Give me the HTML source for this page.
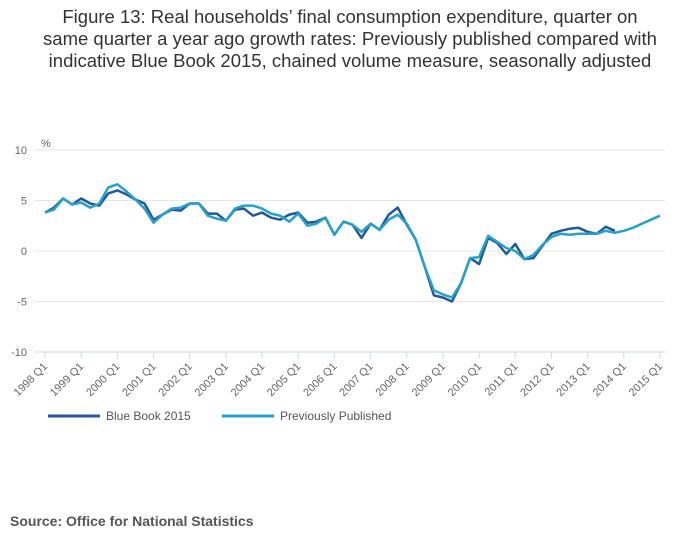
<!DOCTYPE html>
<html><head><meta charset="utf-8"><style>
body{margin:0;background:#fff;font-family:"Liberation Sans",sans-serif;}
#wrap{position:relative;width:700px;height:549px;overflow:hidden;}
#title{position:absolute;top:6px;left:0;width:700px;text-align:center;font-size:18.5px;line-height:22px;color:#333;}
#src{position:absolute;left:10px;top:513px;font-size:14px;font-weight:bold;color:#555;}
</style></head><body>
<div id="wrap">
<div id="title">Figure 13: Real households’ final consumption expenditure, quarter on<br>same quarter a year ago growth rates: Previously published compared with<br>indicative Blue Book 2015, chained volume measure, seasonally adjusted</div>
<svg id="chart" width="700" height="549" style="position:absolute;left:0;top:0"></svg>
<div id="src">Source: Office for National Statistics</div>
</div>
<script>
const startYear = 1998;
const yTicks = [10, 5, 0, -5, -10];
const blueBook = [3.8,4.3,5.2,4.6,5.2,4.7,4.5,5.7,6.0,5.6,5.1,4.7,3.1,3.6,4.1,4.0,4.7,4.7,3.7,3.7,3.0,4.1,4.2,3.5,3.8,3.3,3.1,3.6,3.8,2.8,2.9,3.3,1.6,2.9,2.6,1.3,2.7,2.1,3.6,4.3,2.6,1.1,-1.6,-4.4,-4.6,-5.0,-3.2,-0.7,-1.3,1.3,0.8,-0.3,0.7,-0.8,-0.7,0.5,1.7,2.0,2.2,2.3,1.9,1.7,2.4,2.0];
const prevPub = [3.8,4.1,5.2,4.6,4.8,4.3,4.7,6.3,6.6,5.9,5.1,4.2,2.8,3.6,4.2,4.3,4.7,4.7,3.5,3.2,3.0,4.2,4.5,4.5,4.2,3.7,3.5,2.9,3.7,2.5,2.7,3.3,1.6,2.9,2.6,1.9,2.7,2.1,3.1,3.6,2.7,1.1,-1.6,-3.9,-4.3,-4.6,-3.2,-0.7,-0.6,1.5,0.9,0.3,0.0,-0.8,-0.4,0.6,1.4,1.7,1.6,1.7,1.7,1.7,2.0,1.8,2.0,2.3,2.7,3.1,3.5];
const NS="http://www.w3.org/2000/svg";
const svg=document.getElementById('chart');
const X0=45,X1=660,Y0=150,Y1=352,N=68;
const xs=i=>X0+(X1-X0)*i/N;
const ys=v=>Y0+(10-v)*(Y1-Y0)/20;
function mk(t,a){const e=document.createElementNS(NS,t);for(const k in a)e.setAttribute(k,a[k]);svg.appendChild(e);return e;}
yTicks.forEach(v=>{
  const g=mk('line',{x1:X0-10,x2:X1+5,y1:ys(v),y2:ys(v),stroke:v===-10?'#ccd6eb':'#e6e6e6','stroke-width':1});
  
  
  const t=mk('text',{x:27,y:ys(v)+4,'text-anchor':'end','font-size':11,fill:'#666'});
  t.textContent=v;
  
  
});
const pct=mk('text',{x:41,y:147,'font-size':11,fill:'#666'});pct.textContent='%';


for(let i=0;i<=N;i+=4){
  const x=xs(i);
  const tk=mk('line',{x1:x,x2:x,y1:Y1,y2:Y1+6,stroke:'#ccd6eb'});
  
  
  const t=mk('text',{x:x+3,y:Y1+15,'text-anchor':'end','font-size':11,fill:'#666',transform:`rotate(-45 ${x+3} ${Y1+15})`});
  t.textContent=(startYear+i/4)+' Q1';
  
  
}
function line(arr,col,name){
  const d=arr.map((v,i)=>(i?'L':'M')+xs(i).toFixed(1)+' '+ys(v).toFixed(1)).join(' ');
  const p=mk('path',{d:d,fill:'none',stroke:col,'stroke-width':2.5,'stroke-linejoin':'round'});
  
  
}
line(blueBook,'#1f5a96','blue-book-2015-line');
line(prevPub,'#27a0cc','previously-published-line');
[[48,'#1f5a96','Blue Book 2015','legend-entry-blue-book'],[222,'#27a0cc','Previously Published','legend-entry-previously-published']].forEach(([x,c,l,n])=>{
  const g=mk('g',{});
  
  
  const ln=document.createElementNS(NS,'line');
  ln.setAttribute('x1',x);ln.setAttribute('x2',x+52);ln.setAttribute('y1',416);ln.setAttribute('y2',416);
  ln.setAttribute('stroke',c);ln.setAttribute('stroke-width',3);g.appendChild(ln);
  const t=document.createElementNS(NS,'text');
  t.setAttribute('x',x+58);t.setAttribute('y',420);t.setAttribute('font-size',12);t.setAttribute('fill','#555');
  t.textContent=l;g.appendChild(t);
});
</script>
</body></html>
